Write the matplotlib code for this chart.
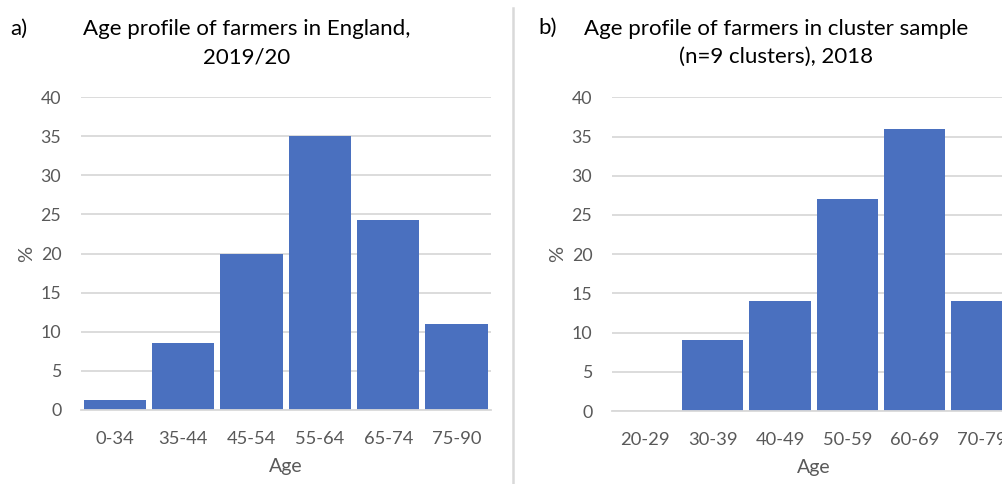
import matplotlib
matplotlib.use("Agg")
import matplotlib.pyplot as plt
from matplotlib.lines import Line2D

# Age profile data (percent of farmers)
england_ages = ["0-34", "35-44", "45-54", "55-64", "65-74", "75-90"]
england_pct = [1.3, 8.6, 19.9, 35.0, 24.3, 11.0]

cluster_ages = ["20-29", "30-39", "40-49", "50-59", "60-69", "70-79"]
cluster_pct = [0, 9, 14, 27, 36, 14]

y_ticks = [0, 5, 10, 15, 20, 25, 30, 35, 40]

BAR = "#4A70BF"
GRID = "#D9D9D9"
TICK = "#595959"
FONT = ["Lato", "DejaVu Sans"]

plt.rcParams["font.family"] = FONT

W, H = 1003, 484
fig = plt.figure(figsize=(W / 100, H / 100), dpi=100)
fig.patch.set_facecolor("white")


def px_axes(x0, x1, y0, y1):
    """Axes placed by pixel edges (x left->right, y top->bottom)."""
    return fig.add_axes([x0 / W, (H - y1) / H, (x1 - x0) / W, (y1 - y0) / H])


def style(ax, cats, vals):
    ax.bar(range(len(cats)), vals, width=0.91, color=BAR, zorder=3)
    ax.set_xlim(-0.5, len(cats) - 0.5)
    ax.set_ylim(0, 40)
    ax.set_yticks(y_ticks)
    ax.set_xticks(range(len(cats)))
    ax.set_xticklabels(cats)
    ax.yaxis.grid(True, color=GRID, linewidth=1.3, zorder=0)
    ax.set_axisbelow(True)
    for s in ["top", "right", "left"]:
        ax.spines[s].set_visible(False)
    ax.spines["bottom"].set_color(GRID)
    ax.spines["bottom"].set_linewidth(1.3)
    ax.spines["bottom"].set_zorder(4)
    ax.tick_params(axis="y", length=0, labelsize=12.8, labelcolor=TICK, pad=14)
    ax.tick_params(axis="x", length=0, labelsize=13.2, labelcolor=TICK, pad=15)
    ax.set_xlabel("Age", fontsize=14, color=TICK, labelpad=8)
    ax.set_ylabel("%", fontsize=14.5, color=TICK, labelpad=4)


ax1 = px_axes(80.7, 490.7, 97, 410)
style(ax1, england_ages, england_pct)

ax2 = px_axes(611.7, 1015.7, 97.3, 411)
style(ax2, cluster_ages, cluster_pct)

# Panel titles
tsize = 16
fig.text(10 / W, 1 - 35 / H, "a)", fontsize=tsize, ha="left", va="baseline")
fig.text(247 / W, 1 - 35 / H, "Age profile of farmers in England,",
         fontsize=tsize, ha="center", va="baseline")
fig.text(247 / W, 1 - 63 / H, "2019/20",
         fontsize=tsize, ha="center", va="baseline")

fig.text(538 / W, 1 - 34 / H, "b)", fontsize=tsize, ha="left", va="baseline")
fig.text(776 / W, 1 - 35 / H, "Age profile of farmers in cluster sample",
         fontsize=tsize, ha="center", va="baseline")
fig.text(776 / W, 1 - 63 / H, "(n=9 clusters), 2018",
         fontsize=tsize, ha="center", va="baseline")

# Divider between the two panels
fig.add_artist(Line2D([513.3 / W, 513.3 / W], [0, 1 - 8 / H],
                      transform=fig.transFigure, color="#D9D9D9", linewidth=1.8))

fig.savefig("out.png", dpi=100, facecolor="white")
